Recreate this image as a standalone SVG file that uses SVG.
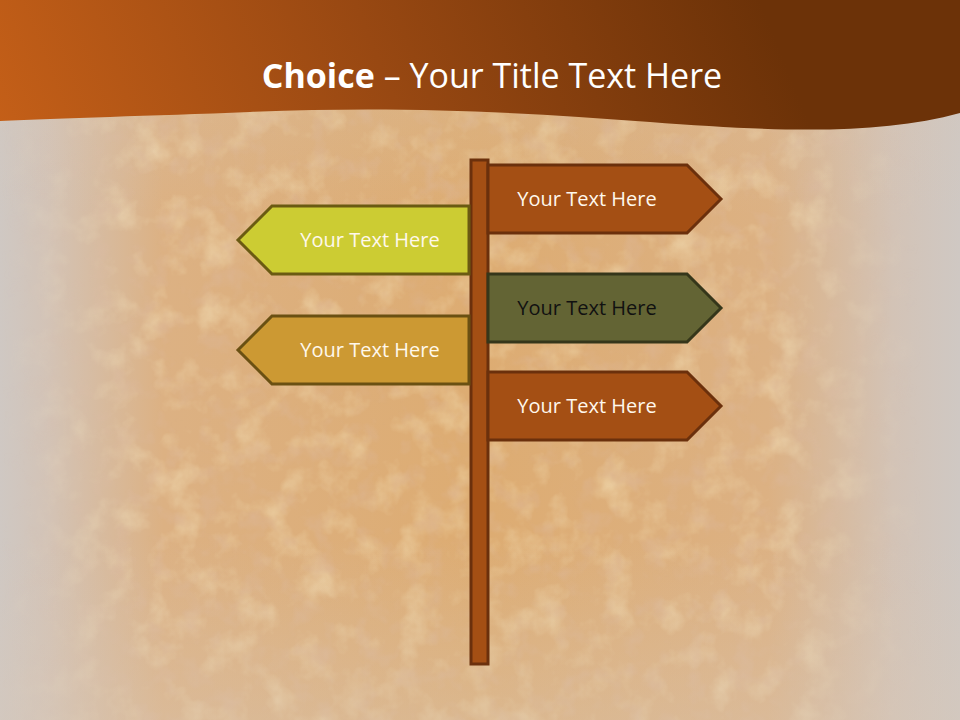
<svg xmlns="http://www.w3.org/2000/svg" width="960" height="720" viewBox="0 0 960 720">
<defs>
<linearGradient id="bg" x1="0" y1="0" x2="960" y2="0" gradientUnits="userSpaceOnUse">
<stop offset="0" stop-color="#cfc8c3"/>
<stop offset="0.05" stop-color="#d3c3b6"/>
<stop offset="0.17" stop-color="#dcb183"/>
<stop offset="0.5" stop-color="#ddac72"/>
<stop offset="0.8" stop-color="#dcb183"/>
<stop offset="0.93" stop-color="#d3c3b6"/>
<stop offset="1" stop-color="#cfc8c3"/>
</linearGradient>
<linearGradient id="fadeV" x1="0" y1="0" x2="0" y2="720" gradientUnits="userSpaceOnUse">
<stop offset="0" stop-color="#d8c8b8" stop-opacity="0.35"/>
<stop offset="0.3" stop-color="#d8c8b8" stop-opacity="0"/>
<stop offset="0.75" stop-color="#d8c8b8" stop-opacity="0"/>
<stop offset="1" stop-color="#d8c8b8" stop-opacity="0.4"/>
</linearGradient>
<linearGradient id="tmx" x1="0" y1="0" x2="960" y2="0" gradientUnits="userSpaceOnUse">
<stop offset="0" stop-color="#fff" stop-opacity="0"/>
<stop offset="0.15" stop-color="#fff" stop-opacity="0.8"/>
<stop offset="0.82" stop-color="#fff" stop-opacity="0.8"/>
<stop offset="0.96" stop-color="#fff" stop-opacity="0"/>
</linearGradient>
<linearGradient id="hdr" x1="0" y1="130" x2="700" y2="-150" gradientUnits="userSpaceOnUse">
<stop offset="0" stop-color="#c45f18"/>
<stop offset="0.5" stop-color="#984812"/>
<stop offset="1" stop-color="#6c3208"/>
</linearGradient>
<mask id="texMask"><rect width="960" height="720" fill="url(#tmx)"/></mask>
<filter id="grain" x="0" y="0" width="100%" height="100%">
<feTurbulence type="fractalNoise" baseFrequency="0.03" numOctaves="4" seed="7"/>
<feColorMatrix type="matrix" values="0 0 0 0 0.98  0 0 0 0 0.90  0 0 0 0 0.62  0 0 0 2.2 -1.05"/>
</filter>
<filter id="grain2" x="0" y="0" width="100%" height="100%">
<feTurbulence type="fractalNoise" baseFrequency="0.045" numOctaves="3" seed="21"/>
<feColorMatrix type="matrix" values="0 0 0 0 0.72  0 0 0 0 0.50  0 0 0 0 0.40  0 0 0 2 -1.0"/>
</filter>
<style>
.sign text{font-family:"Open Sans","Liberation Sans",sans-serif;font-size:20px;text-anchor:middle;fill:#fff8ec}
.brown{fill:#a44f14;stroke:#6b300c;stroke-width:3}
.lime{fill:#cccc33;stroke:#6a5a12;stroke-width:3}
.tan{fill:#cc9933;stroke:#6a5012;stroke-width:3}
.olive{fill:#636434;stroke:#35361a;stroke-width:3}
</style>
</defs>
<rect width="960" height="720" fill="url(#bg)"/>
<g mask="url(#texMask)" opacity="0.5">
<rect width="960" height="720" filter="url(#grain)"/>
<rect width="960" height="720" filter="url(#grain2)"/>
</g>
<rect width="960" height="720" fill="url(#fadeV)"/>
<path d="M0 0 H960 V113 C880 135 780 132 650 122 C520 112 400 106 250 112 C150 116 60 118 0 121 Z" fill="url(#hdr)"/>
<text x="492" y="88" font-family="Open Sans, Liberation Sans, sans-serif" font-size="34" fill="#ffffff" text-anchor="middle"><tspan font-weight="bold">Choice</tspan> – Your Title Text Here</text>
<g id="post"><rect x="471" y="160" width="17" height="504" class="brown"/></g>
<g id="sign1" class="sign"><path d="M488 165 H687 L721 199 L687 233 H488 Z" class="brown"/><text x="587" y="206">Your Text Here</text></g>
<g id="sign2" class="sign"><path d="M469 206 H272 L238 240 L272 274 H469 Z" class="lime"/><text x="370" y="247">Your Text Here</text></g>
<g id="sign3" class="sign"><path d="M488 274 H687 L721 308 L687 342 H488 Z" class="olive"/><text x="587" y="315" style="fill:#111">Your Text Here</text></g>
<g id="sign4" class="sign"><path d="M469 316 H272 L238 350 L272 384 H469 Z" class="tan"/><text x="370" y="357">Your Text Here</text></g>
<g id="sign5" class="sign"><path d="M488 372 H687 L721 406 L687 440 H488 Z" class="brown"/><text x="587" y="413">Your Text Here</text></g>
<g id="connectors"/>
</svg>
